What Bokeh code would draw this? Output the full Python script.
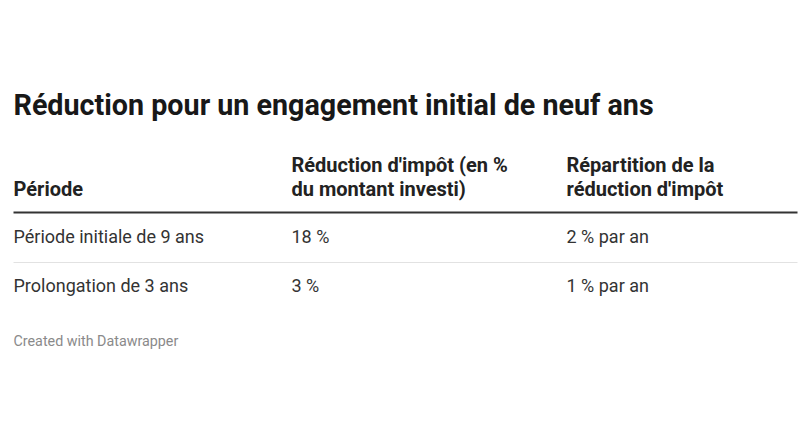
from bokeh.plotting import figure
from bokeh.models import Range1d
from bokeh.embed import file_html
from bokeh.resources import INLINE
from bokeh.core.properties import value

title = "Réduction pour un engagement initial de neuf ans"
headers_line1 = ["", "Réduction d'impôt (en %", "Répartition de la"]
headers_line2 = ["Période", "du montant investi)", "réduction d'impôt"]
periode = ["Période initiale de 9 ans", "Prolongation de 3 ans"]
reduction = ["18 %", "3 %"]
repartition = ["2 % par an", "1 % par an"]
footer = "Created with Datawrapper"

W, H = 801, 421
p = figure(width=W, height=H, output_backend="svg", toolbar_location=None,
           x_range=Range1d(0, W), y_range=Range1d(H, 0),
           min_border=0)
p.axis.visible = False
p.grid.visible = False
p.outline_line_color = None
p.background_fill_color = "white"
p.border_fill_color = "white"

font = value("Roboto")
col_x = [13, 291, 566]
d = -7

p.text(x=[13], y=[111 + d], text=[title], text_font=font, text_font_size="28.7px",
       text_font_style="bold", text_color="#181818", text_baseline="alphabetic")

p.text(x=col_x[1:], y=[171 + d, 171 + d], text=headers_line1[1:], text_font=font,
       text_font_size="20px", text_font_style="bold", text_color="#222222",
       text_baseline="alphabetic")
p.text(x=col_x, y=[195 + d] * 3, text=headers_line2, text_font=font,
       text_font_size="20px", text_font_style="bold", text_color="#222222",
       text_baseline="alphabetic")

p.segment(x0=[13], y0=[212], x1=[797], y1=[212], line_color="#333333", line_width=2)

row_y = [243 + d, 292 + d]
for cx, col in zip(col_x, [periode, reduction, repartition]):
    p.text(x=[cx] * len(col), y=row_y, text=col, text_font=font,
           text_font_size="18px", text_color="#333333", text_baseline="alphabetic")

p.segment(x0=[13], y0=[262], x1=[797], y1=[262], line_color="#e2e2e2", line_width=1)

p.text(x=[13], y=[347 + d], text=[footer], text_font=font, text_font_size="14.3px",
       text_color="#8a8a8a", text_baseline="alphabetic")

open("out.html", "w").write(file_html(p, INLINE))
